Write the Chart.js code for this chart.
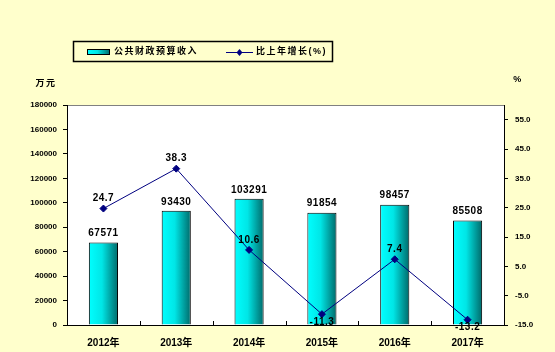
<!DOCTYPE html>
<html><head><meta charset="utf-8">
<style>html,body{margin:0;padding:0;background:#FFFFCC;}#wrap{width:555px;height:352px;position:relative;}</style>
<script src="https://cdn.jsdelivr.net/npm/chart.js@4/dist/chart.umd.min.js"></script>
</head><body><div id="wrap"><canvas id="c" width="555" height="352"></canvas></div>
<script>
const years = ['2012年', '2013年', '2014年', '2015年', '2016年', '2017年'];
const revenue = [67571, 93430, 103291, 91854, 98457, 85508];
const growth = [24.7, 38.3, 10.6, -11.3, 7.4, -13.2];
const leftTicks = [0, 20000, 40000, 60000, 80000, 100000, 120000, 140000, 160000, 180000];
const rightTicks = [-15, -5, 5, 15, 25, 35, 45, 55];
const seriesNames = ['公共财政预算收入', '比上年增长(%)'];
const unitLeft = '万元';
const unitRight = '%';

const FONT = '"Liberation Sans", Arial, "Noto Sans CJK SC", sans-serif';
const CAT = 1.0, BAR = 0.4;
const NAVY = '#000080';

function barGradient(ctx, x0, x1) {
  const g = ctx.createLinearGradient(x0, 0, x1, 0);
  g.addColorStop(0, '#00ffff');
  g.addColorStop(0.45, '#00e6e6');
  g.addColorStop(1, '#006a6a');
  return g;
}
function barFill(c) {
  const ch = c.chart, xs = ch.scales && ch.scales.x;
  if (!xs || c.dataIndex === undefined || !xs.width) return '#00cccc';
  const cx = xs.getPixelForValue(c.dataIndex);
  const w = xs.width / years.length * CAT * BAR;
  return barGradient(ch.ctx, cx - w / 2, cx + w / 2);
}

const decor = {
  id: 'decor',
  beforeDraw(chart) {
    const ctx = chart.ctx, a = chart.chartArea;
    ctx.save();
    ctx.fillStyle = '#FFFFCC';
    ctx.fillRect(0, 0, chart.width, chart.height);
    ctx.fillStyle = '#ffffff';
    ctx.fillRect(a.left, a.top, a.right - a.left, a.bottom - a.top);
    ctx.strokeStyle = '#808080';
    ctx.lineWidth = 1;
    ctx.beginPath();
    ctx.moveTo(a.left, a.top + 0.5);
    ctx.lineTo(a.right, a.top + 0.5);
    ctx.stroke();
    const xs = chart.scales.x;
    ctx.strokeStyle = '#000';
    ctx.beginPath();
    for (let i = 1; i < years.length; i++) {
      const x = Math.round((xs.getPixelForValue(i - 1) + xs.getPixelForValue(i)) / 2) + 0.5;
      ctx.moveTo(x, a.bottom);
      ctx.lineTo(x, a.bottom - 4);
    }
    ctx.stroke();
    ctx.restore();
  },
  afterDatasetsDraw(chart) {
    const ctx = chart.ctx;
    ctx.save();
    ctx.fillStyle = '#000';
    ctx.textAlign = 'center';
    ctx.textBaseline = 'middle';
    ctx.font = 'bold 10px ' + FONT;
    ctx.letterSpacing = '0.5px';
    chart.getDatasetMeta(0).data.forEach((el, i) => {
      ctx.fillText(String(revenue[i]), el.x, el.y - 9);
    });
    chart.getDatasetMeta(1).data.forEach((el, i) => {
      const v = growth[i];
      ctx.fillText(v.toFixed(1), el.x, v >= 0 ? el.y - 10 : el.y + 8);
    });
    ctx.restore();
  },
  afterDraw(chart) {
    const ctx = chart.ctx;
    ctx.save();
    ctx.fillStyle = '#000';
    ctx.textBaseline = 'middle';
    ctx.font = 'bold 9px ' + FONT;
    ctx.letterSpacing = '1.5px';
    ctx.textAlign = 'center';
    ctx.fillText(unitLeft, 46, 84);
    ctx.fillText(unitRight, 518, 80);
    ctx.strokeStyle = '#000';
    ctx.lineWidth = 1.5;
    ctx.strokeRect(73.5, 41.5, 259, 20);
    const ly = 52;
    ctx.fillStyle = barGradient(ctx, 87, 110);
    ctx.fillRect(87, ly - 3, 23, 5);
    ctx.lineWidth = 1;
    ctx.strokeRect(87.5, ly - 2.5, 22, 5);
    ctx.fillStyle = '#000';
    ctx.textAlign = 'left';
    ctx.fillText(seriesNames[0], 114, ly);
    ctx.strokeStyle = NAVY;
    ctx.beginPath();
    ctx.moveTo(226, ly + 0.5);
    ctx.lineTo(253, ly + 0.5);
    ctx.stroke();
    ctx.fillStyle = NAVY;
    ctx.beginPath();
    ctx.moveTo(239.5, ly - 3); ctx.lineTo(242.5, ly + 0.5); ctx.lineTo(239.5, ly + 4); ctx.lineTo(236.5, ly + 0.5);
    ctx.closePath(); ctx.fill();
    ctx.fillStyle = '#000';
    ctx.fillText(seriesNames[1], 256, ly);
    ctx.restore();
  }
};

new Chart(document.getElementById('c'), {
  data: {
    labels: years,
    datasets: [
      {
        type: 'bar', label: seriesNames[0], data: revenue, yAxisID: 'y', order: 1,
        backgroundColor: barFill, borderColor: '#000', borderWidth: 1,
        categoryPercentage: CAT, barPercentage: BAR
      },
      {
        type: 'line', label: seriesNames[1], data: growth, yAxisID: 'y1', order: 0,
        borderColor: NAVY, borderWidth: 1, backgroundColor: NAVY,
        pointStyle: 'rectRot', pointRadius: 3.5, pointBackgroundColor: NAVY, pointBorderColor: NAVY,
        tension: 0, fill: false
      }
    ]
  },
  options: {
    responsive: false, animation: false,
    layout: { padding: { top: 105, left: 0, right: 0, bottom: 0 } },
    plugins: { legend: { display: false }, tooltip: { enabled: false } },
    scales: {
      x: {
        type: 'category', offset: true,
        grid: { display: false },
        border: { display: true, color: '#000', width: 1 },
        ticks: { color: '#000', font: { family: FONT, size: 10, weight: 'bold' }, padding: 4, maxRotation: 0 },
        afterFit(s) { s.height = 27; }
      },
      y: {
        position: 'left', min: 0, max: 180000,
        afterBuildTicks(s) { s.ticks = leftTicks.map(v => ({ value: v })); },
        ticks: { color: '#000', font: { family: FONT, size: 8, weight: 'bold' }, padding: 6, callback: v => String(v) },
        grid: { drawOnChartArea: false, tickLength: 4, color: '#000' },
        border: { color: '#000', width: 1 },
        afterFit(s) { s.width = 67; }
      },
      y1: {
        position: 'right', min: -15, max: 60,
        afterBuildTicks(s) { s.ticks = rightTicks.map(v => ({ value: v })); },
        ticks: { color: '#000', font: { family: FONT, size: 8, weight: 'bold' }, padding: 7, callback: v => Number(v).toFixed(1) },
        grid: { drawOnChartArea: false, tickLength: 4, color: '#000' },
        border: { color: '#000', width: 1 },
        afterFit(s) { s.width = 51; }
      }
    }
  },
  plugins: [decor]
});
</script>
</body></html>
